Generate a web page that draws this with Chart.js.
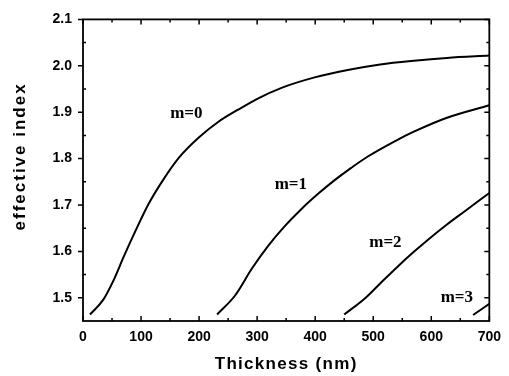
<!DOCTYPE html>
<html lang="en">
<head>
    <meta charset="UTF-8">
    <title>effective index vs thickness</title>
    <script src="https://cdn.jsdelivr.net/npm/chart.js"></script>
    <style>
        html, body { margin: 0; padding: 0; background: #fff; }
        canvas { display: block; }
    </style>
</head>
<body>
    <canvas id="chart" width="509" height="376"></canvas>

    <script>
        // mode curves (thickness in nm, effective index)
        const m0X = [12, 35, 52, 70, 90, 112, 137, 166, 200, 234, 268, 302, 341, 399, 456, 512, 570, 627, 700];
        const m0Y = [1.464, 1.496, 1.536, 1.588, 1.643, 1.700, 1.752, 1.803, 1.846, 1.880, 1.906, 1.930, 1.952, 1.975, 1.991, 2.003, 2.011, 2.017, 2.022];
        const m1X = [231, 262, 291, 319, 348, 376, 405, 433, 462, 490, 541, 570, 627, 700];
        const m1Y = [1.464, 1.505, 1.563, 1.612, 1.655, 1.691, 1.724, 1.753, 1.780, 1.804, 1.840, 1.858, 1.888, 1.915];
        const m2X = [450, 485, 512, 541, 570, 598, 627, 656, 700];
        const m2Y = [1.464, 1.498, 1.531, 1.566, 1.599, 1.629, 1.658, 1.685, 1.726];
        const m3X = [672, 700];
        const m3Y = [1.463, 1.487];

        const modeNames = ['m=0', 'm=1', 'm=2', 'm=3'];
        // where each mode name sits, in data units
        const nameX = [178, 358, 521, 644];
        const nameY = [1.896, 1.743, 1.620, 1.501];

        const xTicks = [0, 100, 200, 300, 400, 500, 600, 700];
        const xMinor = [50, 150, 250, 350, 450, 550, 650];
        const yTicks = [1.5, 1.6, 1.7, 1.8, 1.9, 2.0, 2.1];
        const yMinor = [1.55, 1.65, 1.75, 1.85, 1.95, 2.05];

        const xTitle = 'Thickness (nm)';
        const yTitle = 'effective index';

        function pts(xs, ys) {
            return xs.map((v, i) => ({ x: v, y: ys[i] }));
        }

        function curve(xs, ys) {
            return {
                data: pts(xs, ys),
                showLine: true,
                borderColor: '#000',
                borderWidth: 2,
                pointRadius: 0,
                cubicInterpolationMode: 'monotone'
            };
        }

        const sansBold = { family: '"Liberation Sans", Arial, sans-serif', size: 14, weight: 'bold' };

        // frame, inward/outward tick marks, curve names and axis titles
        const decor = {
            id: 'decor',
            afterDatasetsDraw(chart) {
                const { ctx, chartArea: a, scales: { x, y } } = chart;
                ctx.save();
                ctx.strokeStyle = '#000';
                ctx.lineWidth = 1.8;
                ctx.strokeRect(a.left, a.top, a.right - a.left, a.bottom - a.top);

                ctx.lineWidth = 1.5;
                ctx.beginPath();
                xTicks.forEach(v => {
                    const p = x.getPixelForValue(v);
                    ctx.moveTo(p, a.bottom); ctx.lineTo(p, a.bottom - 5);
                    ctx.moveTo(p, a.top); ctx.lineTo(p, a.top + 5);
                });
                xMinor.forEach(v => {
                    const p = x.getPixelForValue(v);
                    ctx.moveTo(p, a.bottom); ctx.lineTo(p, a.bottom - 3);
                    ctx.moveTo(p, a.top); ctx.lineTo(p, a.top + 3);
                });
                yTicks.forEach(v => {
                    const p = y.getPixelForValue(v);
                    ctx.moveTo(a.left, p); ctx.lineTo(a.left - 5, p);
                    ctx.moveTo(a.right, p); ctx.lineTo(a.right - 5, p);
                });
                yMinor.forEach(v => {
                    const p = y.getPixelForValue(v);
                    ctx.moveTo(a.left, p); ctx.lineTo(a.left + 3, p);
                    ctx.moveTo(a.right, p); ctx.lineTo(a.right - 3, p);
                });
                ctx.stroke();

                ctx.fillStyle = '#000';
                ctx.font = 'bold 17px "Liberation Serif", "Times New Roman", serif';
                ctx.textAlign = 'center';
                ctx.textBaseline = 'middle';
                modeNames.forEach((t, i) => {
                    ctx.fillText(t, x.getPixelForValue(nameX[i]), y.getPixelForValue(nameY[i]));
                });

                ctx.font = 'bold 17px "Liberation Sans", Arial, sans-serif';
                ctx.letterSpacing = '1.3px';
                ctx.fillText(xTitle, (a.left + a.right) / 2, a.bottom + 43);
                ctx.letterSpacing = '2px';
                ctx.translate(20, a.top + 137);
                ctx.rotate(-Math.PI / 2);
                ctx.fillText(yTitle, 0, 0);
                ctx.restore();
            }
        };

        new Chart(document.getElementById('chart'), {
            type: 'scatter',
            data: {
                datasets: [curve(m0X, m0Y), curve(m1X, m1Y), curve(m2X, m2Y), curve(m3X, m3Y)]
            },
            options: {
                responsive: false,
                animation: false,
                layout: { padding: { top: 15, right: 16, left: 0, bottom: 0 } },
                plugins: { legend: { display: false }, tooltip: { enabled: false } },
                scales: {
                    x: {
                        type: 'linear',
                        min: 0,
                        max: 700,
                        afterBuildTicks: s => { s.ticks = xTicks.map(v => ({ value: v })); },
                        afterFit: s => { s.height = 55; },
                        grid: { display: false, drawTicks: false },
                        border: { display: false },
                        ticks: { color: '#000', font: sansBold, padding: 8, maxRotation: 0 }
                    },
                    y: {
                        type: 'linear',
                        min: 1.45,
                        max: 2.1,
                        afterBuildTicks: s => { s.ticks = yTicks.map(v => ({ value: v })); },
                        afterFit: s => { s.width = 83; },
                        grid: { display: false, drawTicks: false },
                        border: { display: false },
                        ticks: { color: '#000', font: sansBold, padding: 11, callback: v => v.toFixed(1) }
                    }
                }
            },
            plugins: [decor]
        });
    </script>
</body>
</html>
